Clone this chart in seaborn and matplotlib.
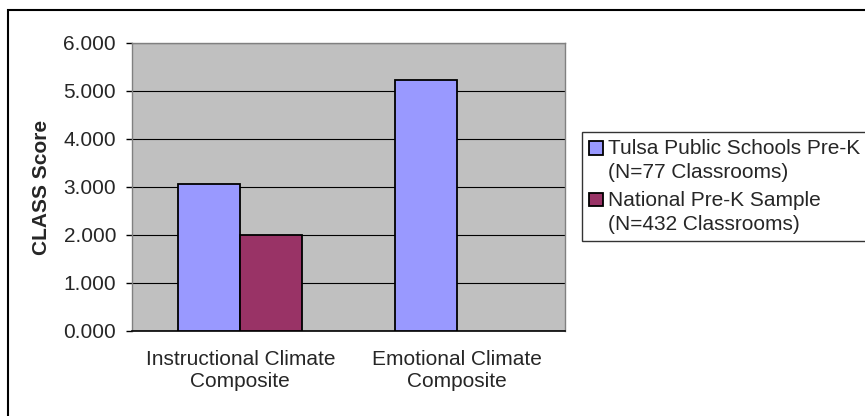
import matplotlib
matplotlib.use("Agg")
import matplotlib.pyplot as plt
import matplotlib.patches as mpatches
from matplotlib.legend_handler import HandlerPatch
import seaborn as sns
import pandas as pd
from matplotlib.ticker import FormatStrFormatter

# data
categories = ["Instructional Climate\nComposite", "Emotional Climate\nComposite"]
series = ["Tulsa Public Schools Pre-K\n(N=77 Classrooms)",
          "National Pre-K Sample\n(N=432 Classrooms)"]
tulsa = [3.07, 5.22]
national = [2.01, None]
colors = ["#9999FF", "#993366"]

df = pd.DataFrame({
    "category": categories * 2,
    "group": [series[0]] * 2 + [series[1]] * 2,
    "score": tulsa + national,
})

sns.set_style("white")
plt.rcParams["font.family"] = ["Liberation Sans", "DejaVu Sans"]
FS = 15

fig = plt.figure(figsize=(8.65, 4.16), dpi=100)
ax = fig.add_axes([132 / 865, 1 - 331 / 416, 433 / 865, 288 / 416])

sns.barplot(data=df, x="category", y="score", hue="group", palette=colors,
            width=0.573, edgecolor="black", linewidth=1.3, saturation=1,
            ax=ax, zorder=3)

ax.set_facecolor("#C0C0C0")
ax.set_xlim(-0.5, 1.5)
ax.set_ylim(0, 6)
ax.set_yticks([0, 1, 2, 3, 4, 5, 6])
ax.yaxis.set_major_formatter(FormatStrFormatter("%.3f"))
ax.grid(axis="y", color="black", linewidth=0.8, zorder=0)
ax.set_axisbelow(True)

for side in ["left", "top", "right"]:
    ax.spines[side].set_color("#808080")
    ax.spines[side].set_linewidth(1.0)
ax.spines["bottom"].set_color("black")
ax.spines["bottom"].set_linewidth(1.2)

ax.set_xticks([0, 1])
ax.set_xticklabels(categories, fontsize=FS)
ax.tick_params(axis="x", length=0, pad=14)
# category boundary ticks
ax.set_xticks([-0.5, 0.5, 1.5], minor=True)
ax.tick_params(axis="x", which="minor", length=4, color="black", width=1)
ax.tick_params(axis="y", length=4.5, color="black", width=1, labelsize=FS, pad=7,
               left=True)

ax.set_xlabel("")
ax.set_ylabel("CLASS Score", fontsize=FS, fontweight="bold", labelpad=9)


# legend key sits next to the first line of each label, like Excel
def top_square(legend, orig_handle, xdescent, ydescent, width, height, fontsize):
    return mpatches.Rectangle((-xdescent, -ydescent + 0.63 * fontsize), width, height)


handles = [mpatches.Patch(facecolor=c, edgecolor="black", linewidth=1.3) for c in colors]
ax.get_legend().remove()
leg = fig.legend(handles, series, loc="upper left",
                 bbox_to_anchor=(582 / 865, 1 - 132 / 416),
                 frameon=True, fancybox=False, fontsize=FS,
                 handlelength=0.65, handleheight=0.65, handletextpad=0.25,
                 borderpad=0.35, labelspacing=0.45, borderaxespad=0,
                 handler_map={mpatches.Patch: HandlerPatch(patch_func=top_square)})
for t in leg.get_texts():
    t.set_linespacing(1.3)
leg.get_frame().set_edgecolor("black")
leg.get_frame().set_linewidth(1.0)

# outer chart frame (cropped at right and bottom)
frame = mpatches.Rectangle((8 / 865, -0.1), 1.0, 1.1 - 10 / 416,
                           transform=fig.transFigure, fill=False,
                           edgecolor="black", linewidth=1.5)
fig.patches.append(frame)

fig.savefig("out.png", dpi=100)
